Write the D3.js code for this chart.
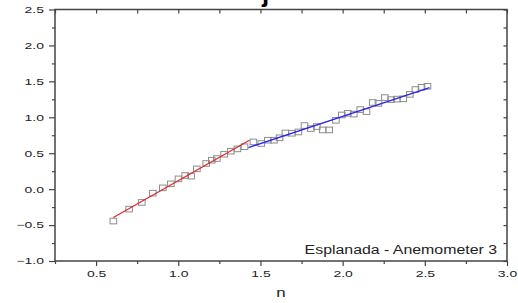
<!DOCTYPE html>
<html>
<head>
<meta charset="utf-8">
<script src="https://cdn.jsdelivr.net/npm/d3@7"></script>
<style>
  body { margin: 0; background: #fff; }
  svg { display: block; }
</style>
</head>
<body>
<div id="chart"></div>
<script>
// Measured points (n, y)
var nValues = [0.605, 0.701, 0.778, 0.845, 0.906, 0.955, 1.001, 1.042, 1.078, 1.113,
               1.170, 1.204, 1.235, 1.279, 1.320, 1.360, 1.403, 1.457,
               1.505, 1.545, 1.582, 1.616, 1.652, 1.691, 1.731, 1.768, 1.807, 1.843,
               1.879, 1.918, 1.959, 1.995, 2.031, 2.068, 2.107, 2.145, 2.183, 2.218,
               2.257, 2.295, 2.330, 2.369, 2.409, 2.443, 2.480, 2.516];
var yValues = [-0.444, -0.278, -0.185, -0.056, 0.018, 0.074, 0.143, 0.190, 0.181, 0.282,
               0.357, 0.403, 0.426, 0.486, 0.528, 0.560, 0.590, 0.657,
               0.635, 0.681, 0.681, 0.715, 0.782, 0.778, 0.796, 0.885, 0.843, 0.871,
               0.824, 0.824, 0.958, 1.032, 1.056, 1.044, 1.107, 1.079, 1.206, 1.194,
               1.274, 1.246, 1.253, 1.257, 1.319, 1.386, 1.417, 1.431];

// Linear fits (start and end points)
var redFitN = [0.605, 1.433];
var redFitY = [-0.394, 0.680];
var blueFitN = [1.427, 2.529];
var blueFitY = [0.579, 1.413];

// Tick labels
var xTicks = [0.5, 1.0, 1.5, 2.0, 2.5, 3.0];
var yTicks = [-1.0, -0.5, 0.0, 0.5, 1.0, 1.5, 2.0, 2.5];
var xMinor = [0.25, 0.75, 1.25, 1.75, 2.25, 2.75];
var yMinor = [-0.75, -0.25, 0.25, 0.75, 1.25, 1.75, 2.25];

var annotation = "Esplanada - Anemometer 3";
var xTitle = "n";

// Plot box
var width = 518, height = 303;
var plotLeft = 55, plotRight = 507, plotTop = 9.5, plotBottom = 261;

var svg = d3.select("#chart")
            .append("svg")
            .attr("width", width)
            .attr("height", height);

var xScale = d3.scaleLinear().domain([0.25, 3.0]).range([plotLeft, plotRight]);
var yScale = d3.scaleLinear().domain([-1.0, 2.5]).range([plotBottom, plotTop]);

var fmt = d3.format(".1f");
var axisColor = "#444";

// stretch text horizontally, the original is wide
function widen(sel, k) {
    sel.each(function() {
        var w = this.getComputedTextLength();
        d3.select(this).attr("textLength", w * k).attr("lengthAdjust", "spacingAndGlyphs");
    });
}

function styleAxis(g) {
    g.select(".domain").remove();
    g.selectAll("line").attr("stroke", axisColor).attr("stroke-width", 1.2);
    g.selectAll("text")
        .attr("font-family", "Liberation Sans, Arial, sans-serif")
        .attr("font-size", "9px")
        .attr("fill", "#222");
}

// Bottom axis, major + minor ticks outward
var gx = svg.append("g")
    .attr("transform", "translate(0," + plotBottom + ")")
    .call(d3.axisBottom(xScale).tickValues(xTicks).tickFormat(fmt).tickSize(5).tickPadding(5));
styleAxis(gx);
svg.append("g")
    .attr("transform", "translate(0," + plotBottom + ")")
    .call(d3.axisBottom(xScale).tickValues(xMinor).tickFormat("").tickSize(3))
    .call(styleAxis);

// Left axis
var gy = svg.append("g")
    .attr("transform", "translate(" + plotLeft + ",0)")
    .call(d3.axisLeft(yScale).tickValues(yTicks).tickFormat(fmt).tickSize(6).tickPadding(5));
styleAxis(gy);
svg.append("g")
    .attr("transform", "translate(" + plotLeft + ",0)")
    .call(d3.axisLeft(yScale).tickValues(yMinor).tickFormat("").tickSize(3))
    .call(styleAxis);

// Top and right mirror ticks, pointing inward
svg.append("g")
    .attr("transform", "translate(0," + plotTop + ")")
    .call(d3.axisTop(xScale).tickValues(xTicks.concat(xMinor)).tickFormat("").tickSize(-4))
    .call(styleAxis);
svg.append("g")
    .attr("transform", "translate(" + plotRight + ",0)")
    .call(d3.axisRight(yScale).tickValues(yTicks.concat(yMinor)).tickFormat("").tickSize(-3.5))
    .call(styleAxis);

widen(gx.selectAll("text"), 1.55);
widen(gy.selectAll("text"), 1.55);

// Frame
svg.append("rect")
    .attr("x", plotLeft)
    .attr("y", plotTop)
    .attr("width", plotRight - plotLeft)
    .attr("height", plotBottom - plotTop)
    .attr("fill", "none")
    .attr("stroke", axisColor)
    .attr("stroke-width", 1.5);

// Data squares
var points = nValues.map(function(n, i) { return {n: n, y: yValues[i]}; });
svg.append("g")
    .selectAll("rect")
    .data(points)
    .enter()
    .append("rect")
    .attr("x", function(d) { return xScale(d.n) - 3.3; })
    .attr("y", function(d) { return yScale(d.y) - 2.8; })
    .attr("width", 6.6)
    .attr("height", 5.6)
    .attr("fill", "none")
    .attr("stroke", "#8c8c8c")
    .attr("stroke-width", 1);

// Fit lines
var line = d3.line()
    .x(function(d) { return xScale(d[0]); })
    .y(function(d) { return yScale(d[1]); });

svg.append("path")
    .datum(d3.zip(redFitN, redFitY))
    .attr("d", line)
    .attr("fill", "none")
    .attr("stroke", "#e02a2a")
    .attr("stroke-width", 1.3);

svg.append("path")
    .datum(d3.zip(blueFitN, blueFitY))
    .attr("d", line)
    .attr("fill", "none")
    .attr("stroke", "#2626ec")
    .attr("stroke-width", 1.3);

// Annotation inside the plot
var ann = svg.append("text")
    .attr("x", 497)
    .attr("y", 254)
    .attr("text-anchor", "end")
    .attr("font-family", "Liberation Sans, Arial, sans-serif")
    .attr("font-size", "12.5px")
    .attr("fill", "#222")
    .text(annotation);
widen(ann, 1.27);

// X axis title
var xt = svg.append("text")
    .attr("x", 281)
    .attr("y", 297)
    .attr("text-anchor", "middle")
    .attr("font-family", "Liberation Sans, Arial, sans-serif")
    .attr("font-size", "12.5px")
    .attr("fill", "#222")
    .text(xTitle);
widen(xt, 1.35);

// Clipped piece of a heading above the frame
svg.append("text")
    .attr("x", 262)
    .attr("y", 1.5)
    .attr("font-family", "Liberation Sans, Arial, sans-serif")
    .attr("font-size", "26px")
    .attr("font-weight", "bold")
    .attr("fill", "#000")
    .text("j");
</script>
</body>
</html>
